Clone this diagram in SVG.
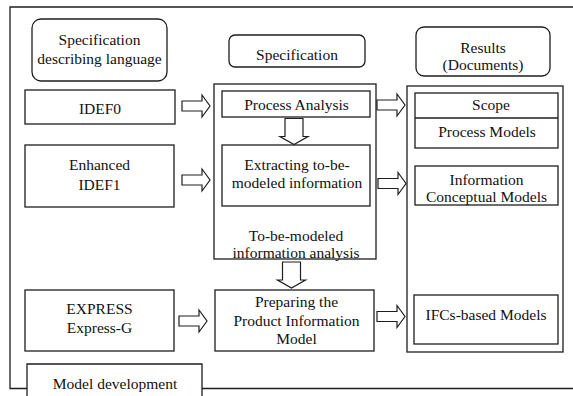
<svg xmlns="http://www.w3.org/2000/svg" width="573" height="396" viewBox="0 0 573 396" font-family="'Liberation Serif', 'DejaVu Serif', serif">
  <style>
    .box { fill: #fff; stroke: #1e1e1e; stroke-width: 1.3; }
    .line { fill: none; stroke: #1e1e1e; stroke-width: 1.3; }
    .arrow { fill: #fff; stroke: #1e1e1e; stroke-width: 1.2; stroke-linejoin: miter; }
    .lbl { font-family: 'Liberation Serif', 'DejaVu Serif', serif; font-size: 15.5px; fill: #111; text-anchor: middle; }
  </style>
  <defs>
    <!-- hollow block arrows, origin at the tail centre -->
    <path id="arrowRight" d="M0,-5 H20 V-11 L28,0 L20,11 V5 H0 Z"/>
    <path id="arrowDown" d="M-9,0 H9 V18 H14 L0,26 L-14,18 H-9 Z"/>
  </defs>

  <rect width="573" height="396" fill="#fff"/>

  <!-- outer frame -->
  <g id="frame">
    <path class="line" d="M573,7 H10 V388.5 H27 M202,388.5 H573"/>
  </g>

  <!-- left column: specification describing language -->
  <g id="header-language">
    <rect class="box" x="32" y="19" width="135" height="62" rx="9"/>
    <text class="lbl" x="99.5" y="45">Specification</text>
    <text class="lbl" x="99.5" y="64">describing language</text>
  </g>
  <g id="idef0">
    <rect class="box" x="25" y="90" width="150" height="34"/>
    <text class="lbl" x="100" y="114">IDEF0</text>
  </g>
  <g id="idef1">
    <rect class="box" x="25" y="145" width="149" height="62"/>
    <text class="lbl" x="99.5" y="170">Enhanced</text>
    <text class="lbl" x="99.5" y="190">IDEF1</text>
  </g>
  <g id="express">
    <rect class="box" x="25" y="290" width="149" height="61"/>
    <text class="lbl" x="99.5" y="314">EXPRESS</text>
    <text class="lbl" x="99.5" y="333">Express-G</text>
  </g>
  <g id="model-development">
    <path class="box" d="M27,397 V364 H202 V397"/>
    <text class="lbl" x="115" y="389">Model development</text>
  </g>

  <!-- middle column: specification -->
  <g id="header-specification">
    <rect class="box" x="229" y="35" width="136" height="32" rx="6"/>
    <text class="lbl" x="297" y="60">Specification</text>
  </g>
  <g id="info-analysis">
    <rect class="box" x="214" y="84" width="162" height="175"/>
    <text class="lbl" x="296" y="241">To-be-modeled</text>
    <text class="lbl" x="296" y="258">information analysis</text>
  </g>
  <g id="process-analysis">
    <rect class="box" x="222" y="91" width="148" height="26"/>
    <text class="lbl" x="296.5" y="110">Process Analysis</text>
  </g>
  <g id="extracting">
    <rect class="box" x="222" y="145" width="148" height="61"/>
    <text class="lbl" x="297" y="170">Extracting to-be-</text>
    <text class="lbl" x="297" y="188">modeled information</text>
  </g>
  <g id="preparing">
    <rect class="box" x="215" y="290" width="159" height="61"/>
    <text class="lbl" x="296.5" y="307">Preparing the</text>
    <text class="lbl" x="296.5" y="326">Product Information</text>
    <text class="lbl" x="296.5" y="344">Model</text>
  </g>

  <!-- right column: results -->
  <g id="header-results">
    <rect class="box" x="416" y="27" width="134" height="49" rx="8"/>
    <text class="lbl" x="483" y="53">Results</text>
    <text class="lbl" x="483" y="70">(Documents)</text>
  </g>
  <g id="results">
    <rect class="box" x="407" y="86" width="156" height="266"/>
  </g>
  <g id="process-models">
    <rect class="box" x="415" y="93" width="143" height="55"/>
    <path class="line" d="M415,118 H558"/>
    <text class="lbl" x="491" y="110">Scope</text>
    <text class="lbl" x="487" y="137">Process Models</text>
  </g>
  <g id="conceptual-models">
    <rect class="box" x="415" y="166" width="143" height="39"/>
    <text class="lbl" x="486.5" y="185">Information</text>
    <text class="lbl" x="486.5" y="202">Conceptual Models</text>
  </g>
  <g id="ifc-models">
    <rect class="box" x="414" y="295" width="144" height="49"/>
    <text class="lbl" x="486" y="320">IFCs-based Models</text>
  </g>

  <!-- connectors -->
  <g id="connectors" class="arrow">
    <use href="#arrowRight" transform="translate(182,106)"/>
    <use href="#arrowRight" transform="translate(182,180)"/>
    <use href="#arrowRight" transform="translate(179,321)"/>
    <use href="#arrowRight" transform="translate(377,105)"/>
    <use href="#arrowRight" transform="translate(378,183.5)"/>
    <use href="#arrowRight" transform="translate(377,316.5)"/>
    <use href="#arrowDown" transform="translate(294,118.5)"/>
    <use href="#arrowDown" transform="translate(291.5,262)"/>
  </g>
</svg>
